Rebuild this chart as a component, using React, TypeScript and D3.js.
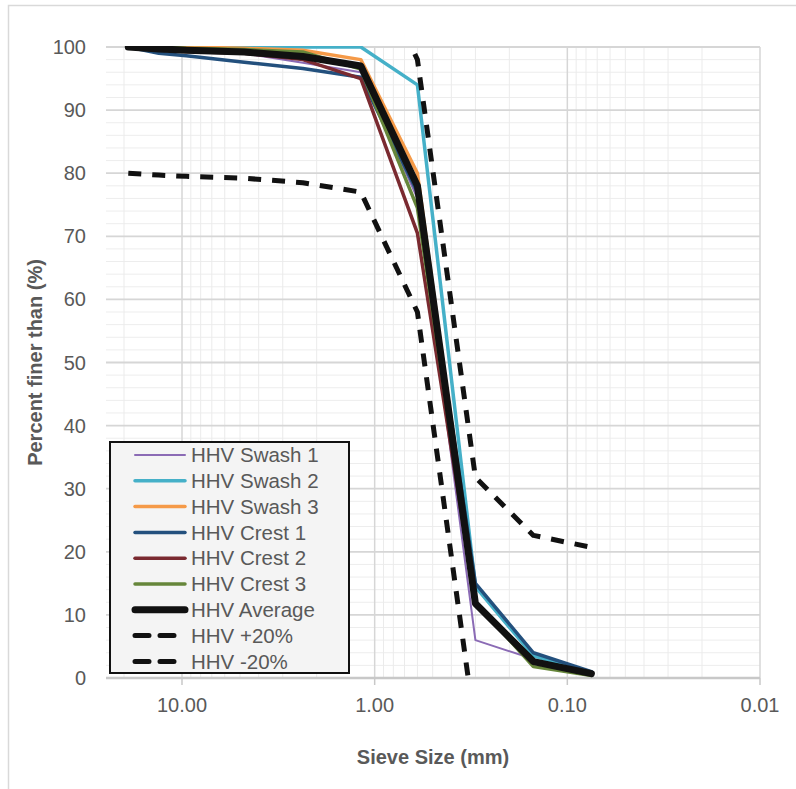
import * as d3 from "d3";
import React, { useEffect, useRef } from "react";

// sieve sizes (mm) and percent passing for each sample
const sieveSizes = [19, 13.2, 9.5, 4.75, 2.36, 1.18, 0.6, 0.3, 0.15, 0.075];
const swash1 = [100, 99.6, 99.4, 99, 97.5, 96, 76, 6, 3, 0.4];
const swash2 = [100, 100, 100, 100, 100, 100, 94, 14.5, 3.5, 0.8];
const swash3 = [100, 100, 100, 99.8, 99.5, 98, 80, 12, 2.5, 0.5];
const crest1 = [100, 99, 98.6, 97.6, 96.6, 95.2, 77, 15, 4, 1];
const crest2 = [100, 99.6, 99.3, 99, 98, 95, 70.5, 12, 2.5, 0.6];
const crest3 = [100, 100, 99.8, 99.6, 99.2, 96.5, 74.5, 12, 1.8, 0.4];
const average = [100, 99.7, 99.5, 99.2, 98.5, 97, 78, 11.8, 2.6, 0.7];
const plus20 = [120, 119.7, 119.5, 119.2, 118.5, 117, 98, 31.8, 22.6, 20.7];
const minus20 = [80, 79.7, 79.5, 79.2, 78.5, 77, 58, -8.2, -17.4, -19.3];

const yTicks = [0, 10, 20, 30, 40, 50, 60, 70, 80, 90, 100];
const xTicks = [10, 1, 0.1, 0.01];

const series = [
  { name: "HHV Swash 1", values: swash1, color: "#8b6bb5", width: 2, dash: null },
  { name: "HHV Swash 2", values: swash2, color: "#45b0c8", width: 3.5, dash: null },
  { name: "HHV Swash 3", values: swash3, color: "#f59a48", width: 3.5, dash: null },
  { name: "HHV Crest 1", values: crest1, color: "#23507d", width: 3.5, dash: null },
  { name: "HHV Crest 2", values: crest2, color: "#7a2a30", width: 3.5, dash: null },
  { name: "HHV Crest 3", values: crest3, color: "#66863a", width: 3.5, dash: null },
  { name: "HHV Average", values: average, color: "#111111", width: 7, dash: null },
  { name: "HHV +20%", values: plus20, color: "#111111", width: 5, dash: "13 11" },
  { name: "HHV -20%", values: minus20, color: "#111111", width: 5, dash: "13 11" },
];

export default function App() {
  const ref = useRef<SVGSVGElement>(null);

  useEffect(() => {
    if (!ref.current) return;
    const width = 796;
    const height = 789;
    const left = 106;
    const right = 760;
    const top = 47;
    const bottom = 678;
    const font = "Arial, 'Liberation Sans', sans-serif";
    const textColor = "#595959";

    const svg = d3.select(ref.current);
    svg.selectChildren().remove();
    svg.attr("viewBox", [0, 0, width, height]);

    const x = d3.scaleLog().domain([24.8, 0.01]).range([left, right]);
    const y = d3.scaleLinear().domain([0, 100]).range([bottom, top]);

    // chart frame
    svg
      .append("rect")
      .attr("x", 8.5)
      .attr("y", 5.5)
      .attr("width", 900)
      .attr("height", 900)
      .attr("fill", "white")
      .attr("stroke", "#d9d9d9")
      .attr("stroke-width", 1.5);

    svg
      .append("defs")
      .append("clipPath")
      .attr("id", "plotClip")
      .append("rect")
      .attr("x", left)
      .attr("y", top - 1)
      .attr("width", right - left)
      .attr("height", bottom - top + 1);

    // minor grid
    const minorY = d3.range(0, 101, 2).filter((v) => v % 10 !== 0);
    svg
      .append("g")
      .selectAll("line")
      .data(minorY)
      .join("line")
      .attr("x1", left)
      .attr("x2", right)
      .attr("y1", (d) => y(d))
      .attr("y2", (d) => y(d))
      .attr("stroke", "#ededed")
      .attr("stroke-width", 1);

    const minorX: number[] = [];
    [0.01, 0.1, 1, 10].forEach((dec) => {
      for (let k = 2; k <= 9; k++) {
        const v = dec * k;
        if (v < 24.8) minorX.push(v);
      }
    });
    svg
      .append("g")
      .selectAll("line")
      .data(minorX)
      .join("line")
      .attr("x1", (d) => x(d))
      .attr("x2", (d) => x(d))
      .attr("y1", top)
      .attr("y2", bottom)
      .attr("stroke", "#ebebeb")
      .attr("stroke-width", 1);

    // major grid
    svg
      .append("g")
      .selectAll("line")
      .data(yTicks.slice(1))
      .join("line")
      .attr("x1", left)
      .attr("x2", right)
      .attr("y1", (d) => y(d))
      .attr("y2", (d) => y(d))
      .attr("stroke", "#d6d6d6")
      .attr("stroke-width", 1.8);

    svg
      .append("g")
      .selectAll("line")
      .data(xTicks)
      .join("line")
      .attr("x1", (d) => x(d))
      .attr("x2", (d) => x(d))
      .attr("y1", top)
      .attr("y2", bottom)
      .attr("stroke", "#d6d6d6")
      .attr("stroke-width", 1.5);

    // x axis
    svg
      .append("line")
      .attr("x1", left)
      .attr("x2", right)
      .attr("y1", bottom)
      .attr("y2", bottom)
      .attr("stroke", "#c8c8c8")
      .attr("stroke-width", 2.5);
    svg
      .append("g")
      .selectAll("line")
      .data(xTicks)
      .join("line")
      .attr("x1", (d) => x(d))
      .attr("x2", (d) => x(d))
      .attr("y1", bottom)
      .attr("y2", bottom + 7)
      .attr("stroke", "#c8c8c8")
      .attr("stroke-width", 1.5);

    svg
      .append("g")
      .attr("font-family", font)
      .attr("font-size", 20)
      .attr("fill", textColor)
      .attr("text-anchor", "middle")
      .selectAll("text")
      .data(xTicks)
      .join("text")
      .attr("x", (d) => x(d))
      .attr("y", 712)
      .text((d) => d.toFixed(2));

    svg
      .append("g")
      .attr("font-family", font)
      .attr("font-size", 20)
      .attr("fill", textColor)
      .attr("text-anchor", "end")
      .selectAll("text")
      .data(yTicks)
      .join("text")
      .attr("x", 86)
      .attr("y", (d) => y(d))
      .attr("dy", "0.35em")
      .text((d) => d);

    // axis titles
    svg
      .append("text")
      .attr("x", (left + right) / 2)
      .attr("y", 764)
      .attr("text-anchor", "middle")
      .attr("font-family", font)
      .attr("font-size", 20)
      .attr("font-weight", "bold")
      .attr("fill", textColor)
      .text("Sieve Size (mm)");

    svg
      .append("text")
      .attr("transform", `translate(42,${(top + bottom) / 2}) rotate(-90)`)
      .attr("text-anchor", "middle")
      .attr("font-family", font)
      .attr("font-size", 20)
      .attr("font-weight", "bold")
      .attr("fill", textColor)
      .text("Percent finer than (%)");

    // series lines
    const line = d3
      .line<number>()
      .x((d, i) => x(sieveSizes[i]))
      .y((d) => y(d));

    svg
      .append("g")
      .attr("clip-path", "url(#plotClip)")
      .attr("fill", "none")
      .selectAll("path")
      .data(series)
      .join("path")
      .attr("d", (s) => line(s.values))
      .attr("stroke", (s) => s.color)
      .attr("stroke-width", (s) => s.width)
      .attr("stroke-dasharray", (s) => s.dash)
      .attr("stroke-linejoin", "round")
      .attr("stroke-linecap", (s) => (s.dash ? "butt" : "round"));

    // legend
    const lg = svg.append("g");
    lg.append("rect")
      .attr("x", 110)
      .attr("y", 442)
      .attr("width", 239)
      .attr("height", 231)
      .attr("fill", "#f4f4f4")
      .attr("stroke", "#111")
      .attr("stroke-width", 2);

    const item = lg
      .selectAll("g")
      .data(series)
      .join("g")
      .attr("transform", (d, i) => `translate(0,${455 + i * 25.8})`);
    item
      .append("line")
      .attr("x1", 135)
      .attr("x2", 185)
      .attr("stroke", (s) => s.color)
      .attr("stroke-width", (s) => s.width)
      .attr("stroke-dasharray", (s) => (s.dash ? "14 11" : null))
      .attr("stroke-linecap", "round");
    item
      .append("text")
      .attr("x", 191)
      .attr("dy", "0.35em")
      .attr("font-family", font)
      .attr("font-size", 20.5)
      .attr("fill", textColor)
      .text((s) => s.name);
  }, []);

  return (
    <svg
      ref={ref}
      width={796}
      height={789}
      style={{ position: "absolute", left: 0, top: 0 }}
    ></svg>
  );
}
